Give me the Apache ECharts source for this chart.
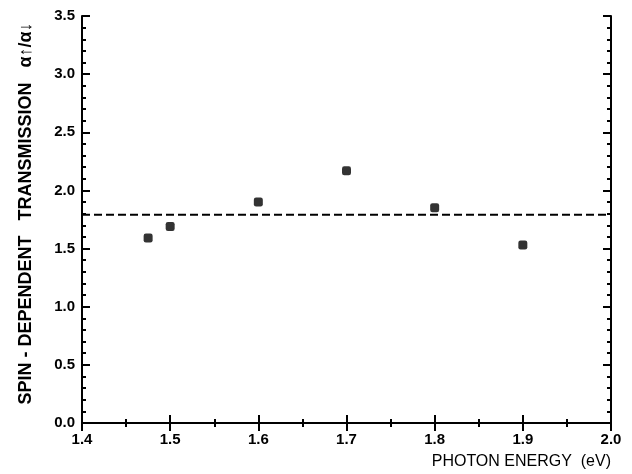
<!DOCTYPE html>
<html>
<head>
<meta charset="utf-8">
<script src="https://cdn.jsdelivr.net/npm/echarts@6/dist/echarts.min.js"></script>
<style>html,body{margin:0;padding:0;background:#fff}#c{width:632px;height:474px}</style>
</head>
<body>
<div id="c"></div>
<script>
var energies = [1.475, 1.5, 1.6, 1.7, 1.8, 1.9];
var ratios = [1.59, 1.69, 1.90, 2.17, 1.85, 1.53];
var meanRatio = 1.79;
var xRange = [1.4, 2.0];
var yRange = [0.0, 3.5];
var xTitle = 'PHOTON ENERGY  (eV)';
var yTitle = 'SPIN - DEPENDENT   TRANSMISSION   \u03b1\u2191/\u03b1\u2193';

var font = '"Liberation Sans", Arial, Helvetica, sans-serif';
var chart = echarts.init(document.getElementById('c'), null, {renderer: 'canvas'});

function axisCommon(show) {
  return {
    axisLine: {show: true, lineStyle: {color: '#000', width: 2}},
    axisTick: {show: true, inside: true, length: 8, lineStyle: {color: '#000', width: 2}},
    minorTick: {show: true, splitNumber: 0, length: 4, lineStyle: {color: '#000', width: 2}},
    splitLine: {show: false},
    axisLabel: {show: show, color: '#000', fontFamily: font, fontWeight: 'bold', fontSize: 15}
  };
}

var xb = Object.assign({type: 'value', position: 'bottom', min: xRange[0], max: xRange[1], interval: 0.1,
  name: xTitle, nameLocation: 'end', nameGap: 0,
  nameTextStyle: {color: '#000', fontFamily: font, fontSize: 16, align: 'right', verticalAlign: 'top', padding: [31, 0, 0, 0]}
}, axisCommon(true));
xb.minorTick = Object.assign({}, xb.minorTick, {splitNumber: 2});
xb.axisLabel = Object.assign({}, xb.axisLabel, {margin: 9, formatter: function(v){return v.toFixed(1);}});
var xt = Object.assign({type: 'value', position: 'top', min: xRange[0], max: xRange[1], interval: 0.1}, axisCommon(false));
xt.minorTick = Object.assign({}, xt.minorTick, {splitNumber: 2});

var yl = Object.assign({type: 'value', position: 'left', min: yRange[0], max: yRange[1], interval: 0.5,
  name: yTitle, nameLocation: 'middle', nameGap: 47,
  nameTextStyle: {color: '#000', fontFamily: font, fontSize: 18, fontWeight: 'bold', padding: [0, 0, 0, 12]}
}, axisCommon(true));
yl.minorTick = Object.assign({}, yl.minorTick, {splitNumber: 5});
yl.axisLabel = Object.assign({}, yl.axisLabel, {margin: 7, formatter: function(v){return v.toFixed(1);}});
var yr = Object.assign({type: 'value', position: 'right', min: yRange[0], max: yRange[1], interval: 0.5}, axisCommon(false));
yr.minorTick = Object.assign({}, yr.minorTick, {splitNumber: 5});

chart.setOption({
  animation: false,
  backgroundColor: '#fff',
  grid: {left: 82, right: 21, top: 16, bottom: 51, containLabel: false},
  xAxis: [xb, xt],
  yAxis: [yl, yr],
  series: [
    {
      type: 'line',
      data: [[xRange[0], meanRatio], [xRange[1], meanRatio]],
      showSymbol: false,
      symbol: 'none',
      lineStyle: {color: '#000', width: 2, type: [8, 4]},
      z: 2
    },
    {
      type: 'scatter',
      data: energies.map(function(e, i){return [e, ratios[i]];}),
      symbol: 'roundRect',
      symbolSize: 9,
      itemStyle: {color: '#000'},
      z: 3
    }
  ]
});
</script>
</body>
</html>
